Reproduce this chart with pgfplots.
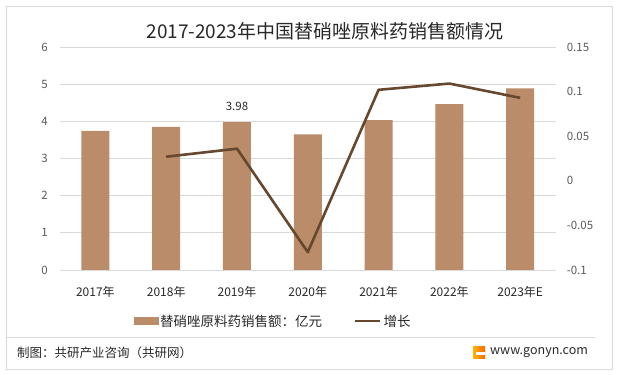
\documentclass[border=0pt]{standalone}
\usepackage{pgfplots}
\pgfplotsset{compat=1.18}
\usepackage{fontspec}
\setmainfont{Noto Sans CJK SC}
\definecolor{barcol}{RGB}{186,140,106}
\definecolor{linecol}{RGB}{102,72,46}
\definecolor{gridc}{RGB}{217,217,217}
\definecolor{txt}{RGB}{89,89,89}
\definecolor{dtxt}{RGB}{40,40,40}
\begin{document}
\begin{tikzpicture}[x=1pt,y=1pt]
\path[use as bounding box] (0,0) rectangle (619,375);
\draw[gridc, line width=0.8pt] (6,6) rectangle (612,369);
\begin{axis}[at={(60pt,105pt)}, anchor=south west, scale only axis,
  width=495.6pt, height=223pt,
  xmin=-0.5, xmax=6.5, ymin=0, ymax=6,
  ytick={0,1,2,3,4,5,6}, xtick={0,1,2,3,4,5,6},
  xticklabels={2017年,2018年,2019年,2020年,2021年,2022年,2023年E},
  axis line style={draw=none}, major tick length=0pt,
  ymajorgrids, grid style={gridc, line width=0.8pt},
  /pgf/number format/assume math mode=true,
  xticklabel style={font=\fontsize{12}{14}\selectfont, text=dtxt, anchor=center, yshift=-22pt},
  yticklabel style={font=\fontsize{11.5}{13}\selectfont, text=txt, anchor=east, inner sep=0pt, xshift=-12pt},
  clip=false]
\addplot[ybar, bar width=28pt, fill=barcol, draw=none] coordinates {(0,3.74)(1,3.85)(2,3.98)(3,3.65)(4,4.03)(5,4.46)(6,4.89)};
\node[font=\fontsize{11.5}{13}\selectfont, text=dtxt, anchor=center] at (axis cs:2,3.98) [yshift=16pt] {3.98};
\end{axis}
\begin{axis}[at={(60pt,105pt)}, anchor=south west, scale only axis,
  width=495.6pt, height=223pt,
  xmin=-0.5, xmax=6.5, ymin=-0.1, ymax=0.15,
  ytick={-0.1,-0.05,0,0.05,0.1,0.15},
  axis y line*=right, hide x axis,
  axis line style={draw=none}, major tick length=0pt,
  /pgf/number format/assume math mode=true,
  /pgf/number format/fixed, /pgf/number format/precision=2,
  yticklabel style={font=\fontsize{11.5}{13}\selectfont, text=txt, anchor=west, inner sep=0pt, xshift=11pt},
  legend style={at={(0.43,-0.229)}, anchor=center, draw=none, fill=none,
    font=\fontsize{13.5}{15}\selectfont, text=dtxt,
    /tikz/every even column/.append style={column sep=30pt}},
  legend columns=2, legend cell align=left,
  clip=false]
\addlegendimage{legend image code/.code={\fill[barcol] (0pt,-3.5pt) rectangle (24pt,3.5pt);}}
\addlegendentry{替硝唑原料药销售额：亿元}
\addplot[linecol, line width=2.6pt, line join=round, legend image code/.code={\draw[linecol, line width=2.6pt] (0pt,0pt) -- (25pt,0pt);}] coordinates {(1,0.027)(2,0.036)(3,-0.080)(4,0.102)(5,0.109)(6,0.093)};
\addlegendentry{增长}
\end{axis}
\node[font=\fontsize{19}{21}\selectfont, text=dtxt] at (325,344) {2017-2023年中国替硝唑原料药销售额情况};
\draw[gridc, line width=0.8pt] (6,38) -- (595,38);
\node[anchor=west, font=\fontsize{12.5}{14}\selectfont, text=dtxt, inner sep=0pt] at (17,22) {制图：共研产业咨询（共研网）};
\shade[left color=orange!60!yellow, right color=orange!80!red] (473,16) rectangle (485,28);
\fill[white] (476,20) rectangle (485,22.5);
\node[anchor=west, font=\fontsize{12.5}{14}\selectfont, text=dtxt, inner sep=0pt] at (490,22) {www.gonyn.com};
\end{tikzpicture}
\end{document}
